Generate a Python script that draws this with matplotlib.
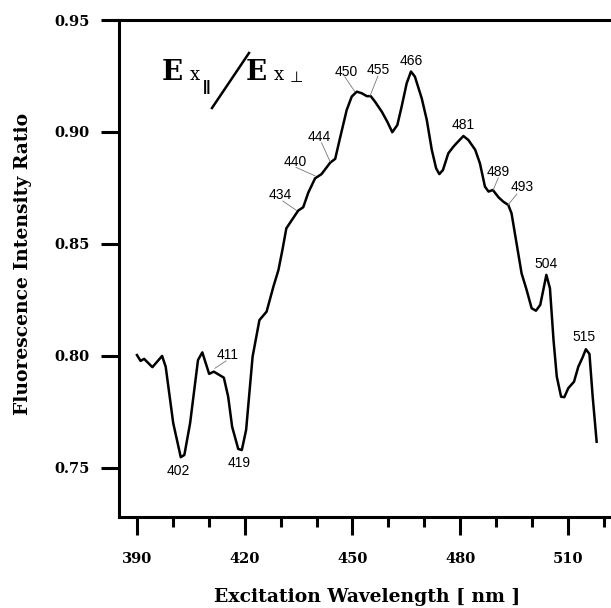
import matplotlib
matplotlib.use("Agg")
import matplotlib.pyplot as plt
from matplotlib.lines import Line2D
from matplotlib.ticker import MultipleLocator, FixedLocator

wavelength = [390.0, 391.0, 392.0, 394.3, 397.0, 398.0, 400.1, 402.2, 403.2, 404.8,
              407.0, 408.2, 410.1, 411.4, 414.2, 415.4, 416.5, 418.2, 419.2, 420.4,
              422.2, 424.1, 426.1, 428.0, 429.4, 430.5, 431.6, 434.9, 436.3, 437.7,
              439.6, 441.4, 443.8, 445.2, 446.5, 448.4, 449.8, 451.2, 452.6, 454.0,
              455.1, 456.3, 458.2, 459.7, 461.1, 462.5, 463.7, 465.1, 466.3, 467.4,
              469.3, 470.7, 472.1, 473.3, 474.2, 475.2, 476.7, 478.1, 479.0, 480.9,
              482.3, 484.2, 485.5, 486.9, 487.9, 489.1, 490.7, 492.0, 493.4, 494.3,
              495.7, 497.1, 498.5, 499.9, 501.1, 502.3, 504.0, 505.0, 506.0, 506.9,
              508.1, 509.0, 510.1, 511.7, 512.9, 514.1, 515.0, 516.0, 516.9, 518.0]
ratio = [0.8004, 0.7978, 0.7987, 0.7950, 0.8000, 0.7952, 0.7700, 0.7548, 0.7558, 0.7700,
         0.7982, 0.8016, 0.7920, 0.7930, 0.7903, 0.7818, 0.7684, 0.7585, 0.7580, 0.7670,
         0.7997, 0.8160, 0.8198, 0.8310, 0.8384, 0.8473, 0.8570, 0.8649, 0.8664, 0.8729,
         0.8793, 0.8812, 0.8863, 0.8880, 0.8970, 0.9098, 0.9158, 0.9180, 0.9173, 0.9160,
         0.9160, 0.9135, 0.9090, 0.9046, 0.8999, 0.9031, 0.9113, 0.9217, 0.9270, 0.9247,
         0.9150, 0.9054, 0.8920, 0.8838, 0.8812, 0.8830, 0.8905, 0.8934, 0.8950, 0.8982,
         0.8964, 0.8920, 0.8860, 0.8756, 0.8734, 0.8741, 0.8708, 0.8689, 0.8674, 0.8637,
         0.8503, 0.8369, 0.8295, 0.8213, 0.8202, 0.8228, 0.8362, 0.8302, 0.8070, 0.7908,
         0.7818, 0.7816, 0.7856, 0.7885, 0.7952, 0.7994, 0.8030, 0.8009, 0.7818, 0.7617]

x_ticks = [390, 420, 450, 480, 510]
y_ticks = [0.75, 0.80, 0.85, 0.90, 0.95]
x_tick_labels = ["390", "420", "450", "480", "510"]
y_tick_labels = ["0.75", "0.80", "0.85", "0.90", "0.95"]

# peak labels: text, label position, optional leader line (start, end)
peak_labels = ["402", "419", "411", "434", "440", "444", "450", "455", "466",
               "481", "489", "493", "504", "515"]
peak_text_pos = [(401.5, 0.7488), (418.5, 0.7521), (415.2, 0.8003), (429.8, 0.8719),
                 (434.0, 0.8867), (440.7, 0.8979), (448.4, 0.9269), (457.2, 0.9277),
                 (466.3, 0.9317), (480.9, 0.9031), (490.6, 0.8820), (497.2, 0.8756),
                 (503.9, 0.8411), (514.6, 0.8083)]
peak_leaders = [None, None, ((411.7, 0.7945), (414.8, 0.7978)),
                ((430.6, 0.8692), (434.5, 0.8649)),
                ((434.3, 0.8842), (439.6, 0.8804)),
                ((441.4, 0.8952), (443.8, 0.8867)),
                ((447.9, 0.9246), (450.7, 0.9179)),
                ((457.1, 0.9250), (454.9, 0.9161)),
                None, None,
                ((490.6, 0.8795), (489.2, 0.8741)),
                ((495.8, 0.8723), (493.3, 0.8674)),
                None, None]

W, H = 611, 608
fig = plt.figure(figsize=(W / 100, H / 100), dpi=100)
ax = fig.add_axes([119 / W, 1 - 517 / H, 1 - 119 / W, (517 - 20) / H])

ax.plot(wavelength, ratio, color="black", lw=1.8, solid_joinstyle="round")
ax.set_xlim(385.0, 522.0)
ax.set_ylim(0.7281, 0.95)

serif = ["DejaVu Serif"]
sans = ["Liberation Sans", "DejaVu Sans"]
ax.xaxis.set_major_locator(FixedLocator(x_ticks))
ax.xaxis.set_minor_locator(MultipleLocator(10))
ax.yaxis.set_major_locator(FixedLocator(y_ticks))
ax.set_xticklabels(x_tick_labels, fontfamily=serif, fontweight="bold", fontsize=10.5)
ax.set_yticklabels(y_tick_labels, fontfamily=serif, fontweight="bold", fontsize=10.5)
ax.tick_params(axis="both", which="major", direction="out", width=2.2, length=13)
ax.tick_params(axis="x", which="major", pad=12)
ax.tick_params(axis="y", which="major", pad=8)
ax.tick_params(axis="x", which="minor", direction="out", width=2.2, length=7)

for side in ["left", "bottom", "top"]:
    ax.spines[side].set_linewidth(2.2)
ax.spines["right"].set_visible(False)
ax.spines["top"].set_bounds(383.9, 522.0)

ax.set_xlabel("Excitation Wavelength [ nm ]", fontfamily=serif, fontweight="bold",
              fontsize=13.5, va="center", ha="center")
ax.set_ylabel("Fluorescence Intensity Ratio", fontfamily=serif, fontweight="bold",
              fontsize=13.5, va="center", ha="center")
ax.xaxis.set_label_coords((367 - 119) / 492, (517 - 597) / 497)
ax.yaxis.set_label_coords((23 - 119) / 492, (517 - 264) / 497)

for lab, (tx, ty), lead in zip(peak_labels, peak_text_pos, peak_leaders):
    ax.text(tx, ty, lab, ha="center", va="center", fontsize=10, fontfamily=sans)
    if lead is not None:
        (x0, y0), (x1, y1) = lead
        ax.plot([x0, x1], [y0, y1], color="#777777", lw=0.6)

def px(x, y):
    return x / W, 1 - y / H

# E_x|| / E_x⊥ label
fig.text(*px(162, 80), "E", fontfamily=serif, fontweight="bold", fontsize=20,
         ha="left", va="baseline")
fig.text(*px(190, 80), "x", fontfamily=serif, fontsize=13, ha="left", va="baseline")
fig.text(*px(203, 91), "||", fontfamily=sans, fontsize=11, fontweight="bold",
         ha="left", va="baseline")
fig.add_artist(Line2D([212 / W, 249 / W], [1 - 108 / H, 1 - 53 / H], color="black",
                      lw=1.8, transform=fig.transFigure))
fig.text(*px(246, 80), "E", fontfamily=serif, fontweight="bold", fontsize=20,
         ha="left", va="baseline")
fig.text(*px(274, 80), "x", fontfamily=serif, fontsize=13, ha="left", va="baseline")
fig.text(*px(290, 82), "⊥", fontfamily=["DejaVu Sans"], fontsize=11,
         ha="left", va="baseline")

fig.savefig("out.png", dpi=100)
